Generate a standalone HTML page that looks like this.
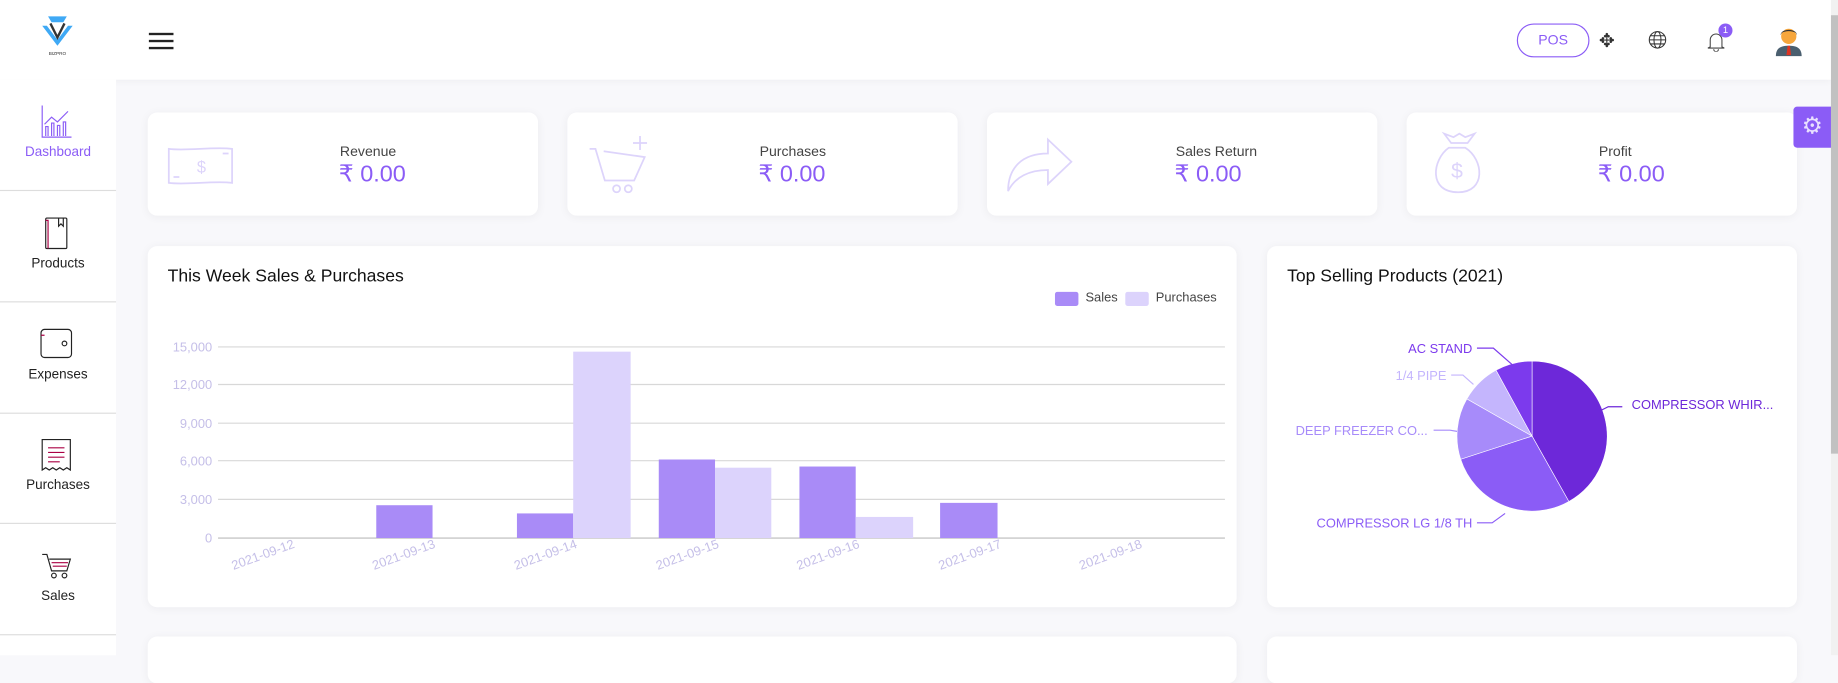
<!DOCTYPE html>
<html><head><meta charset="utf-8"><style>
*{box-sizing:border-box;margin:0;padding:0}
html,body{width:1838px;height:655px;overflow:hidden;background:#f8f8fb;font-family:"Liberation Sans",sans-serif}
#w{position:absolute;left:0;top:0;width:1568px;height:559px;transform:scale(1.17219);transform-origin:0 0;background:#f8f8fb}
.abs{position:absolute}
.card{position:absolute;background:#fff;border-radius:8px;box-shadow:0 1px 8px rgba(0,0,0,.05)}
.hdr{left:0;top:0;width:1562px;height:68px;background:#fff;box-shadow:0 2px 6px rgba(0,0,0,.04)}
.side{left:0;top:68px;width:99px;height:491px;background:#fff}
.si{position:absolute;left:0;width:99px;height:95px;border-bottom:1px solid #ddd;text-align:center;font-size:11.5px;color:#222}
.si span{position:absolute;left:0;right:0;top:56px}
.lbl{font-size:12px;color:#444}
.val{font-size:20px;color:#8b5cf6}
.t{font-size:15px;color:#111}
</style></head><body><div id="w">
<div class="abs hdr"></div>
<svg class="abs" style="left:33px;top:12px" width="32" height="40" viewBox="0 0 32 40"><path d="M8 2h16l-3 5H11z" fill="#3fa9f5"/><path d="M3 10l13 17 13-17-4 0-9 12-9-12z" fill="#3fa9f5"/><path d="M10 8l6 12 6-12" stroke="#333" stroke-width="2" fill="none"/><text x="16" y="35" font-size="4" text-anchor="middle" fill="#333">BIZPRO</text></svg>
<div class="abs" style="left:127px;top:28px;width:21px;height:1.5px;background:#222"></div>
<div class="abs" style="left:127px;top:34px;width:21px;height:1.5px;background:#222"></div>
<div class="abs" style="left:127px;top:40px;width:21px;height:1.5px;background:#222"></div>
<div class="abs" style="left:1294px;top:20px;width:62px;height:29px;border:1px solid #8b5cf6;border-radius:15px;color:#8b5cf6;font-size:12px;text-align:center;line-height:27px">POS</div>
<div class="abs" style="left:1364px;top:25px;font-size:16px;color:#333">✥</div>
<svg class="abs" style="left:1406px;top:26px" width="16" height="16" viewBox="0 0 16 16" fill="none" stroke="#333" stroke-width="0.9"><circle cx="8" cy="8" r="7"/><ellipse cx="8" cy="8" rx="3" ry="7"/><path d="M1 8h14M2 4.5h12M2 11.5h12"/></svg>
<svg class="abs" style="left:1455px;top:26px" width="18" height="18" viewBox="0 0 18 18" fill="none" stroke="#444" stroke-width="0.9"><path d="M4 14V8a5 5 0 0 1 10 0v6l2 1H2z"/><path d="M7 16a2 2 0 0 0 4 0"/></svg>
<div class="abs" style="left:1466px;top:20px;width:12px;height:12px;border-radius:6px;background:#8b5cf6;color:#fff;font-size:8px;text-align:center;line-height:12px">1</div>
<svg class="abs" style="left:1514px;top:21px" width="24" height="27" viewBox="0 0 24 27"><path d="M1 27c0-7 4-9 11-9s11 2 11 9z" fill="#4a5f6f"/><path d="M11 18h2l1 8h-4z" fill="#d32"/><circle cx="12" cy="10" r="6.5" fill="#f6a63c"/><path d="M5 9c0-6 14-6 14 0l-1-2c-3-2-9-2-12 0z" fill="#333"/></svg>
<div class="abs" style="left:1562px;top:0;width:6px;height:559px;background:#f1f1f1"></div>
<div class="abs" style="left:1562px;top:13px;width:6px;height:374px;background:#c1c1c1"></div>
<div class="abs side"></div>
<div class="si" style="top:68px;color:#8b5cf6"><svg class="abs" style="left:35px;top:22px" width="26" height="28" viewBox="0 0 26 28" fill="none" stroke="#8b5cf6" stroke-width="1"><path d="M1 0v27h25"/><path d="M4 26v-8h2v8M9 26v-11h2v11M14 26v-9h2v9M19 26v-12h2v12"/><path d="M3 16l6-6 5 4 9-9"/></svg><span style="color:#8b5cf6">Dashboard</span></div>
<div class="si" style="top:163px"><svg class="abs" style="left:37px;top:22px" width="22" height="28" viewBox="0 0 22 28" fill="none" stroke="#222"><rect x="2" y="1" width="18" height="26" rx="1"/><path d="M2 3h2v24" stroke="#a04"/><path d="M13 1v7l2-2 2 2V1"/></svg><span>Products</span></div>
<div class="si" style="top:258px"><svg class="abs" style="left:34px;top:22px" width="28" height="26" viewBox="0 0 28 26" fill="none" stroke="#222"><rect x="1" y="1" width="26" height="24" rx="3"/><circle cx="21" cy="13" r="2"/><path d="M1 6h3" stroke="#a04"/></svg><span>Expenses</span></div>
<div class="si" style="top:352px"><svg class="abs" style="left:35px;top:22px" width="26" height="28" viewBox="0 0 26 28" fill="none" stroke="#222"><path d="M1 1h24v26l-3-2-3 2-3-2-3 2-3-2-3 2-3-2-3 2z"/><path d="M6 8h14M6 12h14M6 16h14M6 20h10" stroke="#a04"/></svg><span>Purchases</span></div>
<div class="si" style="top:447px"><svg class="abs" style="left:35px;top:24px" width="26" height="24" viewBox="0 0 26 24" fill="none" stroke="#222"><path d="M1 2h4l4 14h13l3-10H7"/><circle cx="11" cy="20" r="2"/><circle cx="20" cy="20" r="2"/><path d="M9 9h14M10 12h12" stroke="#a04"/></svg><span>Sales</span></div>

<div class="card" style="left:126px;top:96px;width:333px;height:88px"></div>
<div class="card" style="left:484px;top:96px;width:333px;height:88px"></div>
<div class="card" style="left:842px;top:96px;width:333px;height:88px"></div>
<div class="card" style="left:1200px;top:96px;width:333px;height:88px"></div>
<svg class="abs" style="left:142px;top:124px" width="58" height="34" viewBox="0 0 58 34" fill="none" stroke="#ddd4fb" stroke-width="1.5"><path d="M2 3c15 2 38-2 54 0v29c-16-2-39 2-54 0z"/><text x="26" y="23" font-size="14" fill="#ddd4fb" stroke="none">$</text><path d="M6 27h5M48 7h5"/></svg>
<svg class="abs" style="left:502px;top:115px" width="56" height="52" viewBox="0 0 56 52" fill="none" stroke="#ddd4fb" stroke-width="1.5"><path d="M1 12h5l8 27h25l9-20-35-5"/><circle cx="24" cy="46" r="3"/><circle cx="34" cy="46" r="3"/><path d="M44 1v12M38 7h12"/></svg>
<svg class="abs" style="left:858px;top:113px" width="58" height="52" viewBox="0 0 58 52" fill="none" stroke="#ddd4fb" stroke-width="1.5"><path d="M2 50C2 30 14 18 36 18V6l20 19-20 19V32C20 32 8 38 2 50z"/></svg>
<svg class="abs" style="left:1218px;top:112px" width="54" height="54" viewBox="0 0 54 54" fill="none" stroke="#ddd4fb" stroke-width="1.5"><path d="M18 14c-14 10-18 38 8 38 24 0 22-28 6-38z"/><path d="M14 2l6 8h14l6-8-8 3-5-3-5 3z"/><text x="20" y="40" font-size="18" fill="#ddd4fb" stroke="none">$</text></svg>
<div class="abs lbl" style="left:290px;top:122px">Revenue</div><div class="abs val" style="left:289px;top:136px">₹ 0.00</div>
<div class="abs lbl" style="left:648px;top:122px">Purchases</div><div class="abs val" style="left:647px;top:136px">₹ 0.00</div>
<div class="abs lbl" style="left:1003px;top:122px">Sales Return</div><div class="abs val" style="left:1002px;top:136px">₹ 0.00</div>
<div class="abs lbl" style="left:1364px;top:122px">Profit</div><div class="abs val" style="left:1363px;top:136px">₹ 0.00</div>
<div class="abs" style="left:1530px;top:91px;width:32px;height:35px;background:#8b5cf6;border-radius:3px 0 0 3px;color:#e9e0ff;font-size:20px;text-align:center;line-height:34px">⚙</div>

<div class="card" style="left:126px;top:210px;width:929px;height:308px"></div>
<div class="abs t" style="left:143px;top:227px">This Week Sales &amp; Purchases</div>
<div class="abs" style="left:900px;top:249px;width:20px;height:12px;background:#a98bf7;border-radius:2px"></div>
<div class="abs" style="left:926px;top:248px;font-size:11px;color:#444">Sales</div>
<div class="abs" style="left:960px;top:249px;width:20px;height:12px;background:#dcd3fc;border-radius:2px"></div>
<div class="abs" style="left:986px;top:248px;font-size:11px;color:#444">Purchases</div>
<svg class="abs" style="left:126px;top:210px" width="929" height="308">
<g stroke="#d8d8d8" stroke-width="1"><line x1="60" x2="919" y1="86" y2="86"/><line x1="60" x2="919" y1="118" y2="118"/><line x1="60" x2="919" y1="151" y2="151"/><line x1="60" x2="919" y1="183" y2="183"/><line x1="60" x2="919" y1="216" y2="216"/><line x1="60" x2="919" y1="249" y2="249" stroke="#bbb"/></g>
<g font-size="11" fill="#c5bfe8" text-anchor="end"><text x="55" y="90">15,000</text><text x="55" y="122">12,000</text><text x="55" y="155">9,000</text><text x="55" y="187">6,000</text><text x="55" y="220">3,000</text><text x="55" y="253">0</text></g>
<g fill="#a98bf7"><rect x="195" y="221" width="48" height="28"/><rect x="315" y="228" width="48" height="21"/><rect x="436" y="182" width="48" height="67"/><rect x="556" y="188" width="48" height="61"/><rect x="676" y="219" width="49" height="30"/></g>
<g fill="#dcd3fc"><rect x="363" y="90" width="49" height="159"/><rect x="484" y="189" width="48" height="60"/><rect x="604" y="231" width="49" height="18"/></g>
<g font-size="11" fill="#c5bfe8" text-anchor="end"><text transform="translate(126,257) rotate(-20)">2021-09-12</text><text transform="translate(246,257) rotate(-20)">2021-09-13</text><text transform="translate(367,257) rotate(-20)">2021-09-14</text><text transform="translate(488,257) rotate(-20)">2021-09-15</text><text transform="translate(608,257) rotate(-20)">2021-09-16</text><text transform="translate(729,257) rotate(-20)">2021-09-17</text><text transform="translate(849,257) rotate(-20)">2021-09-18</text></g>
</svg>

<div class="card" style="left:1081px;top:210px;width:452px;height:308px"></div>
<div class="abs t" style="left:1098px;top:227px">Top Selling Products (2021)</div>
<svg class="abs" style="left:1081px;top:210px" width="452" height="308">
<g transform="translate(226,162)" stroke="#fff" stroke-width="0.5">
<path d="M0 0L0 -64A64 64 0 0 1 31.4 55.8Z" fill="#6d28d9"/>
<path d="M0 0L31.4 55.8A64 64 0 0 1 -60.9 19.8Z" fill="#8b5cf6"/>
<path d="M0 0L-60.9 19.8A64 64 0 0 1 -55.6 -31.7Z" fill="#a78bfa"/>
<path d="M0 0L-55.6 -31.7A64 64 0 0 1 -30.7 -56.2Z" fill="#c4b5fd"/>
<path d="M0 0L-30.7 -56.2A64 64 0 0 1 0 -64Z" fill="#7c3aed"/>
</g>
<g fill="none" stroke-width="1"><path d="M179 87h14l16 14" stroke="#7c3aed"/><path d="M157 110h10l9 8" stroke="#c4b5fd"/><path d="M285 140l6-3h12" stroke="#6d28d9"/><path d="M142 157h14l6 1" stroke="#a78bfa"/><path d="M179 236h13l11-8" stroke="#8b5cf6"/></g>
<g font-size="11"><text x="175" y="91" text-anchor="end" fill="#7c3aed">AC STAND</text><text x="153" y="114" text-anchor="end" fill="#c4b5fd">1/4 PIPE</text><text x="311" y="139" fill="#6d28d9">COMPRESSOR WHIR...</text><text x="137" y="161" text-anchor="end" fill="#a78bfa">DEEP FREEZER CO...</text><text x="175" y="240" text-anchor="end" fill="#8b5cf6">COMPRESSOR LG 1/8 TH</text></g>
</svg>

<div class="card" style="left:126px;top:543px;width:929px;height:40px"></div>
<div class="card" style="left:1081px;top:543px;width:452px;height:40px"></div>
</div></body></html>
